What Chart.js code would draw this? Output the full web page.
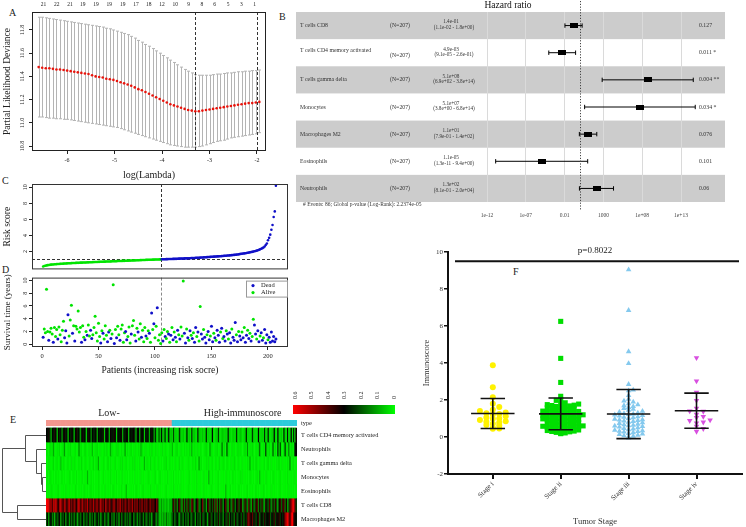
<!DOCTYPE html>
<html>
<head>
<meta charset="utf-8">
<script src="https://cdn.jsdelivr.net/npm/chart.js@4.4.0/dist/chart.umd.min.js"></script>
<style>
  body { margin: 0; background: #fff; width: 746px; height: 527px; position: relative; overflow: hidden; font-family: 'Liberation Serif', serif; }
  canvas { position: absolute; }
  .tag { position: absolute; font-size: 10px; color: #222; line-height: 10px; }
</style>
</head>
<body>
<div class="tag" style="left:9px;top:8px">A</div>
<div class="tag" style="left:279px;top:12px">B</div>
<div class="tag" style="left:2px;top:176px">C</div>
<div class="tag" style="left:2px;top:265px">D</div>
<div class="tag" style="left:10px;top:415px">E</div>
<div class="tag" style="left:513px;top:267px">F</div>
<canvas id="cvA"></canvas>
<canvas id="coxB"></canvas>
<canvas id="riskC"></canvas>
<canvas id="survD"></canvas>
<canvas id="heatE"></canvas>
<canvas id="stageF"></canvas>
<script>
Chart.defaults.font.family = "'Liberation Serif', 'DejaVu Serif', serif";
Chart.defaults.color = '#222';
Chart.defaults.animation = false;
Chart.defaults.responsive = false;
Chart.defaults.devicePixelRatio = 1;
Chart.defaults.plugins.legend.display = false;
Chart.defaults.plugins.tooltip.enabled = false;

// ---- A: lasso cross-validation ----
const logLambda = [-6.6,-6.525,-6.45,-6.375,-6.3,-6.225,-6.15,-6.075,-6,-5.925,-5.85,-5.775,-5.7,-5.625,-5.55,-5.475,-5.4,-5.325,-5.25,-5.175,-5.1,-5.025,-4.95,-4.875,-4.8,-4.725,-4.65,-4.575,-4.5,-4.425,-4.35,-4.275,-4.2,-4.125,-4.05,-3.975,-3.9,-3.825,-3.75,-3.675,-3.6,-3.525,-3.45,-3.375,-3.3,-3.225,-3.15,-3.075,-3,-2.925,-2.85,-2.775,-2.7,-2.625,-2.55,-2.475,-2.4,-2.325,-2.25,-2.175,-2.1,-2.025,-1.95];
const cvMean = [11.48,11.475,11.47,11.47,11.465,11.46,11.46,11.455,11.45,11.445,
  11.44,11.435,11.43,11.425,11.42,11.41,11.40,11.395,11.39,11.38,
  11.375,11.37,11.36,11.35,11.34,11.33,11.32,11.305,11.29,11.28,
  11.265,11.25,11.235,11.22,11.205,11.19,11.175,11.16,11.15,11.14,
  11.13,11.12,11.11,11.105,11.10,11.10,11.105,11.11,11.115,11.12,
  11.125,11.13,11.135,11.14,11.145,11.15,11.155,11.16,11.165,11.17,
  11.17,11.175,11.18];
const cvUpper = [11.91,11.91,11.905,11.90,11.895,11.89,11.885,11.88,11.875,11.87,
  11.865,11.86,11.855,11.85,11.845,11.84,11.835,11.83,11.825,11.815,
  11.81,11.80,11.79,11.78,11.77,11.76,11.745,11.73,11.71,11.695,
  11.675,11.66,11.64,11.62,11.60,11.58,11.56,11.54,11.52,11.50,
  11.48,11.46,11.445,11.43,11.415,11.41,11.41,11.41,11.41,11.415,
  11.42,11.42,11.425,11.43,11.43,11.435,11.44,11.44,11.445,11.445,
  11.45,11.45,11.455];
const cvLower = [11.05,11.05,11.045,11.04,11.04,11.035,11.035,11.03,11.03,11.025,
  11.02,11.015,11.01,11.005,11.0,10.995,10.99,10.985,10.98,10.975,
  10.97,10.965,10.96,10.95,10.94,10.93,10.92,10.91,10.90,10.89,
  10.88,10.87,10.86,10.85,10.84,10.83,10.82,10.81,10.805,10.80,
  10.795,10.79,10.79,10.79,10.79,10.795,10.80,10.81,10.82,10.83,
  10.84,10.845,10.85,10.86,10.87,10.875,10.88,10.885,10.89,10.895,
  10.90,10.905,10.915];
const nzeroPos = [-6.50,-6.22,-5.94,-5.67,-5.39,-5.11,-4.83,-4.55,-4.28,-4.00,-3.72,-3.44,-3.16,-2.89,-2.61,-2.33,-2.05];
const nzero = [21,22,21,19,19,19,19,17,18,12,10,9,8,6,5,3,1];
const lambdaMin = -3.3;
const lambda1se = -1.99;

// ---- B: multivariate Cox ----
const coxVars = ['T cells CD8','T cells CD4 memory activated','T cells gamma delta','Monocytes','Macrophages M2','Eosinophils','Neutrophils'];
const coxN = 207;
const coxHR = [1.4e-1, 4.9e-3, 5.1e8, 5.1e7, 1.1e1, 1.1e-5, 1.3e2];
const coxLow = [1.1e-2, 9.1e-5, 6.9e2, 3.8e0, 7.9e-1, 1.3e-11, 8.1e-1];
const coxHigh = [1.8e0, 2.6e-1, 3.8e14, 6.8e14, 1.4e2, 9.4e0, 2.0e4];
const coxP = ['0.127','0.011 *','0.004 **','0.034 *','0.076','0.101','0.06'];
const coxEvents = 86;
const globalP = '2.2374e-05';
const hrTicks = [1e-12, 1e-7, 1e-2, 1e3, 1e8, 1e13];
const hrTickLabels = ['1e-12','1e-07','0.01','1000','1e+08','1e+13'];

// ---- C / D: risk score and survival, patients ordered by risk ----
const nLowRisk = 105;
const riskScore = [0.12,0.18,0.22,0.26,0.29,0.31,0.33,0.35,0.37,0.38,
  0.40,0.41,0.42,0.43,0.44,0.45,0.46,0.47,0.48,0.49,
  0.50,0.51,0.52,0.52,0.53,0.54,0.55,0.55,0.56,0.57,
  0.58,0.58,0.59,0.60,0.60,0.61,0.62,0.62,0.63,0.64,
  0.64,0.65,0.65,0.66,0.67,0.67,0.68,0.68,0.69,0.70,
  0.70,0.71,0.71,0.72,0.73,0.73,0.74,0.74,0.75,0.75,
  0.76,0.77,0.77,0.78,0.78,0.79,0.80,0.80,0.81,0.81,
  0.82,0.83,0.83,0.84,0.84,0.85,0.86,0.86,0.87,0.88,
  0.88,0.89,0.89,0.90,0.91,0.91,0.92,0.92,0.93,0.94,
  0.94,0.95,0.95,0.96,0.96,0.97,0.97,0.98,0.98,0.99,
  0.99,1.00,1.00,1.01,1.01,
  1.02,1.02,1.03,1.03,1.04,1.04,1.05,1.05,1.06,1.06,
  1.07,1.07,1.08,1.08,1.09,1.10,1.10,1.11,1.11,1.12,
  1.13,1.13,1.14,1.15,1.15,1.16,1.17,1.18,1.18,1.19,
  1.20,1.21,1.22,1.22,1.23,1.24,1.25,1.26,1.27,1.28,
  1.29,1.30,1.31,1.32,1.33,1.34,1.35,1.36,1.37,1.38,
  1.39,1.40,1.41,1.42,1.44,1.45,1.46,1.47,1.49,1.50,
  1.51,1.52,1.54,1.55,1.57,1.58,1.60,1.62,1.64,1.67,
  1.70,1.72,1.74,1.76,1.78,1.80,1.83,1.86,1.89,1.92,
  1.95,1.98,2.02,2.06,2.10,2.15,2.20,2.26,2.33,2.41,
  2.50,2.62,2.80,3.00,3.40,3.70,4.10,4.70,5.30,6.30,7.00,10.20];
const riskCut = 1.01;
const survYears = [1.1,2.4,1.8,8.6,2.0,0.6,1.9,2.5,1.6,0.3,
  2.6,1.2,2.3,0.8,2.7,1.5,0.4,2.2,3.6,1.0,
  2.1,0.2,4.6,1.3,3.8,6.1,1.7,2.9,0.5,2.8,
  2.4,5.2,1.9,2.6,0.3,2.9,1.1,0.7,2.0,1.4,
  3.0,1.3,2.2,0.9,1.5,2.6,4.4,1.8,0.5,3.3,
  1.2,0.2,2.1,1.7,0.8,2.9,1.4,0.4,1.9,2.2,
  0.9,1.6,9.3,0.1,2.3,1.0,2.8,1.5,0.6,2.4,
  3.0,0.3,1.8,2.0,0.7,1.2,2.7,0.2,1.6,2.9,
  3.7,1.4,0.5,2.5,1.9,0.8,3.2,1.1,2.2,0.4,
  2.6,1.3,0.9,2.1,1.7,0.3,4.9,2.3,3.2,1.0,
  2.8,5.7,0.6,1.5,0.1,
  1.8,0.5,2.3,1.2,0.9,2.0,1.6,0.3,1.4,2.6,
  0.7,1.9,1.1,0.4,2.2,1.5,0.8,2.7,1.3,9.9,
  1.7,0.2,2.4,1.0,0.6,2.1,1.4,0.9,1.8,0.3,
  2.6,1.2,1.9,0.5,5.9,1.6,0.8,2.3,1.1,0.2,
  1.5,2.0,0.7,1.3,2.8,0.4,1.7,1.0,0.6,2.2,
  1.4,0.3,1.9,2.5,0.9,1.2,0.5,2.1,1.6,0.8,
  1.8,0.2,2.4,1.1,0.6,3.4,1.5,0.4,2.0,1.3,
  0.7,1.9,1.0,2.6,0.3,1.4,2.2,0.9,1.7,0.5,
  1.2,3.9,3.0,1.6,0.8,2.1,0.4,1.3,1.8,0.6,
  1.0,2.3,0.2,1.5,0.7,1.1,0.3,1.9,0.5,1.2,0.4,0.8];
const dead = [1,0,0,0,0,1,0,0,0,1, 0,0,0,1,0,0,0,0,0,1, 1,1,1,0,0,0,1,0,1,0,
  0,0,0,0,1,0,0,1,0,1, 0,0,1,1,0,0,0,0,0,0, 0,1,0,1,0,0,0,1,1,0,
  1,0,0,1,0,1,0,0,1,0, 0,0,0,1,1,0,0,0,1,0, 0,0,1,0,1,0,0,1,0,0,
  0,1,0,0,1,0,1,0,1,0, 0,1,0,0,0,
  0,1,0,1,0,0,1,0,1,0, 1,0,1,0,1,0,1,0,0,0, 1,1,0,1,0,1,0,1,0,1,
  1,0,1,0,0,1,1,0,1,1, 0,1,1,0,1,1,0,1,0,1, 1,1,0,1,0,1,1,0,1,0,
  1,1,0,1,1,1,0,1,0,1, 1,0,1,0,1,1,0,1,0,1, 0,0,1,1,0,1,1,0,1,1,
  0,1,1,1,0,1,1,1,1,1,1,1];

// ---- E: heatmap, values x100, columns ordered Low then High immunoscore ----
const heatNames = ['T cells CD4 memory activated','Neutrophils','T cells gamma delta','Monocytes','Eosinophils','T cells CD8','Macrophages M2'];
const groupNames = ['Low-', 'High-immunoscore'];
const groupSizes = [104, 103];
const heatCD4 = [30,28,32,25,8,30,27,33,29,6,31,26,30,10,28,32,27,29,5,30,26,31,28,
  7,29,33,27,30,9,26,31,28,30,4,27,32,29,12,30,26,28,31,8,29,27,30,
  26,32,6,28,30,27,9,31,29,26,33,28,5,30,27,29,32,10,28,26,31,29,7,
  30,27,28,31,26,8,29,30,12,27,31,28,6,30,26,29,9,28,31,27,10,25,8,
  6,22,5,28,9,7,26,4,8,30,5,7,5,22,4,6,3,8,25,5,4,7,3,
  5,28,4,6,3,24,5,7,4,3,27,6,5,4,8,3,5,26,4,6,3,5,29,
  4,3,6,5,24,4,3,7,5,4,6,3,28,5,4,3,6,4,5,26,3,4,7,
  5,3,4,6,27,4,5,3,4,24,6,5,3,4,30,5,4,6,3,25,5,4,28,
  4,3,6,5,30,4,3,29,5,4,6,3,27,5,4,28,3,6,31,4,25,5,32];
const heatNeut = [3,2,1,4,2,3,10,2,1,3,2,4,1,2,3,12,2,1,3,2,4,2,1,
  2,3,1,2,14,2,3,1,2,4,2,1,3,2,2,8,1,3,2,4,1,2,3,
  1,2,3,2,4,1,2,10,3,2,1,2,3,4,2,1,3,2,2,12,1,3,2,
  2,4,1,2,3,2,1,3,2,9,4,1,2,3,2,1,3,2,4,2,1,3,2,
  3,1,2,2,4,1,3,2,1,2,3,2,8,1,2,3,4,1,2,3,2,1,3,
  2,3,1,4,2,10,1,3,2,2,4,1,3,2,1,2,3,4,2,1,12,3,2,
  1,3,2,4,1,2,3,18,2,4,1,22,3,2,1,4,2,3,1,2,4,2,3,
  2,1,3,4,2,14,1,3,2,4,2,1,3,2,4,18,2,1,3,2,24,3,2,
  4,1,3,20,2,4,1,26,3,22,2,1,4,24,3,2,16,1,4,3,2,26,30];
const heatGD = [2,1,3,2,1,2,4,1,2,3,1,2,8,1,3,2,1,2,3,1,2,4,1,
  3,2,1,2,3,1,4,2,1,3,2,1,2,3,1,2,4,1,3,2,10,1,2,
  1,3,2,1,2,4,1,3,2,1,2,3,1,2,1,3,2,4,1,2,3,1,2,
  2,1,3,2,4,1,2,1,3,2,1,2,9,1,3,2,1,4,2,1,3,2,1,
  3,2,1,2,1,3,2,4,1,2,3,1,2,1,3,2,1,2,4,1,3,2,1,
  2,1,3,2,1,2,3,1,4,2,1,12,2,3,1,2,1,3,2,4,1,2,3,
  1,2,3,1,2,4,1,2,3,2,1,3,2,1,2,3,1,4,2,1,3,2,1,
  2,3,1,2,1,3,2,10,1,2,3,1,4,2,1,3,2,1,2,3,1,2,4,
  1,2,3,1,2,1,3,2,4,1,2,3,1,2,1,3,2,14,1,2,3,1,2];
const heatMono = [1,2,1,3,2,1,2,1,3,1,2,1,2,3,1,2,1,2,1,3,2,1,2,
  2,1,3,1,2,1,2,3,1,2,1,9,2,1,3,1,2,1,2,1,3,2,1,
  1,3,1,2,1,2,1,3,2,1,2,1,3,1,2,1,2,3,1,2,1,2,1,
  2,1,2,1,3,1,2,1,2,3,1,2,1,2,1,3,2,1,2,1,2,3,1,
  1,2,3,1,2,1,2,1,3,2,1,2,1,3,1,2,1,2,1,3,1,2,1,
  2,1,2,3,1,2,1,2,1,3,2,1,2,1,2,3,1,2,1,10,2,1,3,
  1,2,1,2,3,1,2,1,2,1,3,2,1,2,1,2,3,1,2,1,2,1,3,
  2,3,1,2,1,2,1,3,2,1,2,1,2,3,1,8,2,1,2,1,3,2,1,
  1,2,1,3,2,1,2,1,2,3,1,2,1,2,1,3,2,1,2,1,2,3,1];
const heatEos = [2,1,2,1,3,2,1,2,1,2,3,1,2,1,2,1,3,2,1,2,1,2,1,
  1,3,2,1,2,1,2,1,3,2,1,2,1,2,3,1,2,1,2,1,3,2,1,
  2,1,2,3,1,2,1,2,1,3,2,1,2,1,2,1,3,2,1,2,8,1,2,
  1,2,1,2,1,3,2,1,2,1,2,3,1,2,1,2,1,3,2,1,2,1,2,
  3,1,2,1,2,1,2,3,1,2,1,2,1,3,2,1,2,1,2,3,1,2,1,
  2,1,3,2,1,2,1,2,1,3,2,1,2,1,2,3,1,2,1,2,1,3,2,
  1,2,1,2,3,1,2,1,2,1,9,2,1,2,3,1,2,1,2,1,2,3,1,
  2,1,2,1,2,3,1,2,1,2,1,2,3,1,2,1,2,1,3,2,1,2,1,
  1,2,3,1,2,1,2,1,2,3,1,2,1,2,1,2,3,1,2,1,2,1,2];
const heatCD8 = [60,58,55,45,50,38,52,47,56,40,35,48,53,42,37,50,45,33,46,52,39,44,36,
  49,41,34,47,55,38,43,50,36,45,40,52,33,46,42,38,51,35,44,48,37,41,53,
  39,45,34,50,42,36,47,40,33,44,49,38,35,46,41,52,37,43,34,48,40,36,45,
  42,38,50,35,44,39,47,33,41,36,49,34,43,38,46,32,40,45,35,42,37,31,44,
  36,8,5,12,6,10,4,9,7,5,11,6,22,38,18,35,12,33,40,20,10,36,15,
  34,15,38,22,17,42,36,12,20,29,40,14,18,31,44,19,26,9,34,39,16,32,20,
  36,18,41,14,33,17,38,22,12,31,40,19,10,36,21,15,39,24,16,30,37,18,33,
  35,12,19,38,21,14,40,23,8,36,20,17,34,39,15,32,18,37,16,11,33,25,19,
  38,20,14,34,17,36,22,9,31,37,18,35,40,16,33,12,20,38,45,55,58,42,24];
const heatM2 = [20,28,12,25,30,15,22,8,27,18,24,31,10,26,19,29,14,23,30,11,25,17,28,
  13,26,21,9,29,16,24,30,12,27,19,22,31,10,25,18,28,14,23,30,17,26,11,
  24,29,15,21,27,10,25,30,18,22,13,28,20,26,9,31,17,23,29,14,24,19,27,
  12,25,30,16,22,28,11,26,19,24,30,13,27,21,15,29,18,23,10,26,31,20,14,
  25,10,6,12,8,15,5,18,9,12,7,14,20,28,16,24,30,18,12,27,22,15,29,
  19,26,13,31,21,17,28,24,12,30,20,26,15,32,22,18,29,25,11,27,33,19,24,
  30,16,26,21,34,18,28,23,14,31,25,20,35,17,29,22,27,15,33,24,19,30,26,
  21,32,17,28,24,40,45,38,30,42,26,33,20,29,36,18,27,31,22,35,25,30,28,
  34,19,30,26,37,22,32,29,36,24,31,27,33,46,52,58,48,35,55,60,42,30,28];
const heatRows = [heatCD4, heatNeut, heatGD, heatMono, heatEos, heatCD8, heatM2];
const keyTicks = [0.6, 0.5, 0.4, 0.3, 0.2, 0.1, 0];
// hclust style merges: negative = row (1-based), positive = earlier merge
const dendroMerges = [[-4,-5,0.09],[-3,1,0.11],[-2,2,0.22],[-1,3,0.48],[-6,-7,0.66],[4,5,0.99]];

// ---- F: immunoscore by tumor stage ----
const stageNames = ['Stage i','Stage ii','Stage iii','Stage iv'];
const stageI = [3.88,2.69,2.15,1.80,1.62,1.47,1.40,1.33,1.28,1.25,1.22,1.12,1.05,1.00,0.98,0.92,0.85,0.82,0.78,0.72,0.65,0.62,0.50,0.46,0.44];
const stageII = [6.25,4.25,2.95,2.20,2.02,1.98,
  1.85,1.80,1.78,1.75,1.72,1.70,1.68,1.65,1.62,1.60,
  1.55,1.52,1.50,1.48,1.45,1.42,1.40,1.38,1.35,1.32,
  1.30,1.28,1.25,1.22,1.20,1.18,1.15,1.12,1.10,1.08,
  1.05,1.02,1.00,0.98,0.95,0.92,0.90,0.88,0.85,0.82,
  0.80,0.78,0.75,0.72,0.70,0.68,0.65,0.62,0.60,0.58,
  0.55,0.52,0.50,0.48,0.45,0.42,0.40,0.38,0.35,0.32,
  0.30,0.28,0.25,0.22,0.20,0.18,1.58,1.35,1.05,0.88,0.62,0.45];
const stageIII = [9.05,6.85,4.62,3.98,2.85,2.55,2.50,2.25,2.05,1.95,1.90,
  1.80,1.75,1.70,1.65,1.60,1.55,1.50,1.45,1.40,1.35,
  1.30,1.27,1.24,1.20,1.17,1.14,1.10,1.07,1.04,1.00,
  0.97,0.94,0.90,0.87,0.84,0.80,0.77,0.74,0.70,0.67,
  0.64,0.60,0.57,0.54,0.50,0.47,0.44,0.40,0.37,0.34,
  0.30,0.27,0.24,0.20,0.17,0.14,0.10,0.07,0.04,0.00,
  -0.05,1.22,0.92,0.62,0.32];
const stageIV = [4.28,3.02,2.42,1.97,1.55,1.40,1.38,1.22,1.10,1.05,0.92,0.88,0.80,0.75,0.58,0.45,0.30];
const stageMean = [1.27, 1.25, 1.24, 1.42];
const stageSD = [0.81, 0.86, 1.33, 0.95];
const pValueText = 'p=0.8022';
const pLineAt = 9.5;

const GREEN = '#00e400';
const BLUE = '#1010c8';

function place(id, left, top, w, h) {
  let c = document.getElementById(id);
  c.style.left = left + 'px';
  c.style.top = top + 'px';
  c.width = w;
  c.height = h;
  return c;
}
const fixW = w => s => { s.width = w; };
const fixH = h => s => { s.height = h; };
const at = arr => s => { s.ticks = arr.map(v => ({ value: v })); };

function frame(color) {
  return {
    id: 'frame',
    afterDraw(chart) {
      const a = chart.chartArea, ctx = chart.ctx;
      ctx.save();
      ctx.strokeStyle = color;
      ctx.lineWidth = 1;
      ctx.strokeRect(a.left + 0.5, a.top + 0.5, a.right - a.left - 1, a.bottom - a.top - 1);
      ctx.restore();
    }
  };
}
function vDash(chart, xv, color, top, bottom) {
  const { ctx, scales: { x } } = chart;
  const px = Math.round(x.getPixelForValue(xv)) + 0.5;
  ctx.save();
  ctx.strokeStyle = color;
  ctx.setLineDash([3, 2]);
  ctx.beginPath();
  ctx.moveTo(px, top);
  ctx.lineTo(px, bottom);
  ctx.stroke();
  ctx.restore();
}
function sci(v) {
  let [m, e] = v.toExponential(1).split('e');
  let n = Math.abs(+e);
  return m + 'e' + (e[0] === '-' ? '-' : '+') + (n < 10 ? '0' : '') + n;
}
const rTicks = { font: { size: 6 }, minRotation: 90, maxRotation: 90, crossAlign: 'center', padding: 1 };
const rGrid = { drawOnChartArea: false, tickLength: 3, color: '#222' };

// ---------- A ----------
new Chart(place('cvA', 0, 0, 280, 185), {
  type: 'scatter',
  data: {
    datasets: [{
      data: logLambda.map((x, i) => ({ x, y: cvMean[i] })),
      pointRadius: 1.3, pointBorderWidth: 0, pointBackgroundColor: '#e8140c'
    }]
  },
  options: {
    layout: { padding: { right: 14 } },
    scales: {
      x: {
        type: 'linear', min: -6.74, max: -1.81, afterBuildTicks: at([-6, -5, -4, -3, -2]),
        ticks: { font: { size: 6 }, padding: 3 }, grid: rGrid, border: { display: false },
        title: { display: true, text: 'log(Lambda)', font: { size: 10 }, padding: { top: 8 } },
        afterFit: fixH(34)
      },
      x2: {
        type: 'linear', position: 'top', min: -6.74, max: -1.81, afterBuildTicks: at(nzeroPos),
        ticks: { font: { size: 5.5 }, padding: 4, callback: (v, i) => nzero[i] },
        grid: { display: false, drawTicks: false }, border: { display: false },
        afterFit: fixH(12)
      },
      y: {
        min: 10.757, max: 11.955, afterBuildTicks: at([10.8, 11.0, 11.2, 11.4, 11.6, 11.8]),
        ticks: Object.assign({}, rTicks, { callback: v => v.toFixed(1) }),
        grid: rGrid, border: { display: false },
        title: { display: true, text: 'Partial Likelihood Deviance', font: { size: 9.5 }, padding: { top: 2 } },
        afterFit: fixW(32)
      }
    }
  },
  plugins: [frame('#222'), {
    id: 'cvBars',
    beforeDatasetsDraw(chart) {
      const { ctx, scales: { x, y }, chartArea: a } = chart;
      ctx.save();
      ctx.strokeStyle = '#b4b4b4';
      ctx.lineWidth = 1;
      ctx.beginPath();
      logLambda.forEach((v, i) => {
        const px = Math.round(x.getPixelForValue(v)) + 0.5;
        const t = y.getPixelForValue(cvUpper[i]), b = y.getPixelForValue(cvLower[i]);
        ctx.moveTo(px, t); ctx.lineTo(px, b);
        ctx.moveTo(px - 1.5, t); ctx.lineTo(px + 1.5, t);
        ctx.moveTo(px - 1.5, b); ctx.lineTo(px + 1.5, b);
      });
      ctx.stroke();
      ctx.restore();
      vDash(chart, lambdaMin, '#333', a.top, a.bottom);
      vDash(chart, lambda1se, '#333', a.top, a.bottom);
    }
  }]
});

// ---------- B ----------
const boxMark = document.createElement('canvas');
boxMark.width = 8; boxMark.height = 5;
boxMark.getContext('2d').fillRect(0, 0, 8, 5);
const ciLines = [], ciCaps = [];
coxVars.forEach((v, i) => {
  ciLines.push({ x: coxLow[i], y: i + 1 }, { x: coxHigh[i], y: i + 1 }, { x: null, y: null });
  ciCaps.push({ x: coxLow[i], y: i + 1 }, { x: coxHigh[i], y: i + 1 });
});
new Chart(place('coxB', 283, 0, 463, 225), {
  type: 'scatter',
  data: {
    datasets: [
      { data: coxHR.map((v, i) => ({ x: v, y: i + 1 })), pointStyle: boxMark, pointRadius: 4 },
      { data: ciCaps, pointStyle: 'line', rotation: 90, pointRadius: 2.2, borderColor: '#000', borderWidth: 1 },
      { data: ciLines, showLine: true, spanGaps: false, pointRadius: 0, borderColor: '#000', borderWidth: 1 }
    ]
  },
  options: {
    layout: { padding: { left: 188.5, right: 41.7, top: 12, bottom: 0 } },
    scales: {
      x: {
        type: 'logarithmic', min: 1e-14, max: 1e16, afterBuildTicks: at(hrTicks),
        ticks: { font: { size: 5.5 }, padding: 10, color: '#444', callback: (v, i) => hrTickLabels[i] },
        grid: { color: '#dadada', drawTicks: false }, border: { display: false },
        afterFit: fixH(23)
      },
      y: { min: 0.5, max: 7.5, reverse: true, display: false }
    }
  },
  plugins: [{
    id: 'forestDecor',
    beforeDraw(chart) {
      const { ctx, scales: { y } } = chart;
      const half = Math.abs(y.getPixelForValue(1.5) - y.getPixelForValue(1));
      ctx.save();
      ctx.fillStyle = '#cccccc';
      coxVars.forEach((v, i) => {
        if (i % 2) return;
        const c = y.getPixelForValue(i + 1);
        ctx.fillRect(13, c - half, chart.width - 34, 2 * half);
      });
      ctx.restore();
    },
    afterDraw(chart) {
      const { ctx, scales: { x, y } } = chart;
      ctx.save();
      ctx.fillStyle = '#333';
      ctx.textBaseline = 'middle';
      coxVars.forEach((name, i) => {
        const c = y.getPixelForValue(i + 1);
        const long = name.length > 20;
        ctx.font = "5.8px 'Liberation Serif'";
        ctx.textAlign = 'left';
        ctx.fillText(name, 17, long ? c - 2 : c);
        ctx.fillText('(N=' + coxN + ')', 107, long ? c + 3 : c);
        ctx.fillText(coxP[i], 416, c);
        ctx.font = "5.2px 'Liberation Serif'";
        ctx.textAlign = 'center';
        ctx.fillText(sci(coxHR[i]), 168, c - 3.5);
        ctx.fillText('(' + sci(coxLow[i]) + ' - ' + sci(coxHigh[i]) + ')', 171, c + 2);
      });
      ctx.font = "5.5px 'Liberation Serif'";
      ctx.textAlign = 'left';
      ctx.fillText('# Events: ' + coxEvents + '; Global p-value (Log-Rank): ' + globalP, 20, 204.5);
      ctx.font = "9.5px 'Liberation Serif'";
      ctx.textAlign = 'center';
      ctx.fillStyle = '#111';
      ctx.fillText('Hazard ratio', 225, 5);
      const px = Math.round(x.getPixelForValue(1)) + 0.5;
      ctx.strokeStyle = '#444';
      ctx.setLineDash([1.2, 1.6]);
      ctx.beginPath();
      ctx.moveTo(px, 1);
      ctx.lineTo(px, 211);
      ctx.stroke();
      ctx.restore();
    }
  }]
});

// ---------- C ----------
const patientIdx = riskScore.map((v, i) => i + 1);
new Chart(place('riskC', 0, 176, 300, 98), {
  type: 'scatter',
  data: {
    datasets: [{
      data: riskScore.map((v, i) => ({ x: patientIdx[i], y: v })),
      pointRadius: 1.3, pointBorderWidth: 0,
      pointBackgroundColor: riskScore.map((v, i) => i < nLowRisk ? GREEN : BLUE)
    }]
  },
  options: {
    layout: { padding: { top: 8, right: 12, bottom: 1 } },
    scales: {
      x: { min: -8.85, max: 217.7, display: false },
      y: {
        min: -0.24, max: 10.42, afterBuildTicks: at([2, 4, 6, 8, 10]),
        ticks: rTicks, grid: rGrid, border: { display: false },
        title: { display: true, text: 'Risk score', font: { size: 9.5 }, padding: { top: 2 } },
        afterFit: fixW(32)
      }
    }
  },
  plugins: [frame('#333'), {
    id: 'riskCut',
    beforeDatasetsDraw(chart) {
      const { ctx, scales: { y }, chartArea: a } = chart;
      const py = Math.round(y.getPixelForValue(riskCut)) + 0.5;
      ctx.save();
      ctx.strokeStyle = '#333';
      ctx.setLineDash([3, 2]);
      ctx.beginPath();
      ctx.moveTo(a.left, py);
      ctx.lineTo(a.right, py);
      ctx.stroke();
      ctx.restore();
      vDash(chart, nLowRisk + 0.5, '#333', a.top, a.bottom);
    }
  }]
});

// ---------- D ----------
new Chart(place('survD', 0, 273, 300, 107), {
  type: 'scatter',
  data: {
    datasets: [{
      data: survYears.map((v, i) => ({ x: patientIdx[i], y: v })),
      pointRadius: 1.5, pointBorderWidth: 0,
      pointBackgroundColor: dead.map(d => d ? BLUE : GREEN)
    }]
  },
  options: {
    layout: { padding: { top: 0, right: 12 } },
    scales: {
      x: {
        min: -8.85, max: 217.7, afterBuildTicks: at([0, 50, 100, 150, 200]),
        ticks: { font: { size: 6.5 }, padding: 2 }, grid: rGrid, border: { display: false },
        title: { display: true, text: 'Patients (increasing risk socre)', font: { size: 9.5 }, padding: { top: 4 } },
        afterFit: fixH(33)
      },
      y: {
        min: -0.44, max: 10.44, afterBuildTicks: at([0, 2, 4, 6, 8, 10]),
        ticks: rTicks, grid: rGrid, border: { display: false },
        title: { display: true, text: 'Survival time (years)', font: { size: 9 }, padding: { top: 2 } },
        afterFit: fixW(32)
      }
    }
  },
  plugins: [frame('#333'), {
    id: 'survDecor',
    beforeDatasetsDraw(chart) {
      const a = chart.chartArea;
      vDash(chart, nLowRisk + 0.5, '#888', a.top, a.bottom);
    },
    afterDraw(chart) {
      const { ctx, chartArea: a } = chart;
      const x0 = a.right - 42, y0 = a.top + 3;
      ctx.save();
      ctx.fillStyle = '#fff';
      ctx.fillRect(x0, y0, 42, 16);
      ctx.strokeStyle = '#999';
      ctx.strokeRect(x0 + 0.5, y0 + 0.5, 41, 16);
      ctx.font = "6.5px 'Liberation Serif'";
      ctx.textBaseline = 'middle';
      [['Dead', BLUE], ['Alive', GREEN]].forEach(([t, c], k) => {
        const yy = y0 + 5 + k * 7;
        ctx.fillStyle = c;
        ctx.beginPath(); ctx.arc(x0 + 7, yy, 1.6, 0, Math.PI * 2); ctx.fill();
        ctx.fillStyle = '#222';
        ctx.fillText(t, x0 + 15, yy);
      });
      ctx.restore();
    }
  }]
});

// ---------- E ----------
function heatColor(v) {
  if (v <= 0.3) return 'rgb(0,' + Math.round(255 * (1 - v / 0.3)) + ',0)';
  return 'rgb(' + Math.round(255 * Math.min(1, (v - 0.3) / 0.3)) + ',0,0)';
}
const typeH = 0.41, gapH = 0.16;
const colLabels = heatCD4.map((v, i) => i + 1);
const groupOf = colLabels.map((c, i) => i < groupSizes[0] ? 0 : 1);
const heatSets = [
  { data: colLabels.map(() => typeH), backgroundColor: groupOf.map(g => g ? '#2dcbdc' : '#f3968e') },
  { data: colLabels.map(() => gapH), backgroundColor: 'rgba(0,0,0,0)' }
].concat(heatRows.map(row => ({ data: row.map(() => 1), backgroundColor: row.map(v => heatColor(v / 100)) })));
heatSets.forEach(d => { d.categoryPercentage = 1; d.barPercentage = 1; d.borderWidth = 0; });
new Chart(place('heatE', 0, 380, 420, 147), {
  type: 'bar',
  data: { labels: colLabels, datasets: heatSets },
  options: {
    layout: { padding: { left: 46, right: 123, top: 40, bottom: 1 } },
    scales: {
      x: { stacked: true, display: false },
      y: { stacked: true, display: false, reverse: true, min: 0, max: typeH + gapH + heatRows.length }
    }
  },
  plugins: [{
    id: 'heatDecor',
    afterDraw(chart) {
      const { ctx, scales: { x, y }, chartArea: a } = chart;
      const rowY = i => y.getPixelForValue(typeH + gapH + i + 0.5);
      ctx.save();
      ctx.fillStyle = '#222';
      ctx.textBaseline = 'middle';
      ctx.textAlign = 'left';
      ctx.font = "6.3px 'Liberation Serif'";
      heatNames.forEach((n, i) => ctx.fillText(n, a.right + 4, rowY(i)));
      ctx.fillText('type', a.right + 4, y.getPixelForValue(typeH / 2));
      // group titles
      ctx.font = "10px 'Liberation Serif'";
      ctx.textAlign = 'center';
      let start = 0;
      groupSizes.forEach((n, g) => {
        const cx = (x.getPixelForValue(start) + x.getPixelForValue(start + n - 1)) / 2;
        ctx.fillText(groupNames[g], cx + (g ? 8 : 0), a.top - 7);
        start += n;
      });
      // colour key
      const kl = 293, kr = 395, kt = 25, kb = 34;
      const grad = ctx.createLinearGradient(kl, 0, kr, 0);
      keyTicks.forEach(v => grad.addColorStop((0.6 - v) / 0.6, heatColor(v)));
      ctx.fillStyle = grad;
      ctx.fillRect(kl, kt, kr - kl, kb - kt);
      ctx.fillStyle = '#222';
      ctx.font = "6px 'Liberation Serif'";
      keyTicks.forEach(v => {
        const kx = kl + 2 + (0.6 - v) / 0.6 * (kr - kl - 3);
        ctx.save();
        ctx.translate(kx, kt - 6);
        ctx.rotate(-Math.PI / 2);
        ctx.textAlign = 'left';
        ctx.fillText(String(v), 0, 0);
        ctx.restore();
      });
      // dendrogram
      ctx.strokeStyle = '#555';
      ctx.lineWidth = 1;
      ctx.beginPath();
      const nodes = [];
      const xy = id => id < 0 ? { x: a.left, y: rowY(-id - 1) } : nodes[id - 1];
      dendroMerges.forEach(([p, q, h]) => {
        const A = xy(p), B = xy(q);
        const hx = Math.round(a.left - h * (a.left - 2)) + 0.5;
        ctx.moveTo(A.x, Math.round(A.y) + 0.5); ctx.lineTo(hx, Math.round(A.y) + 0.5);
        ctx.lineTo(hx, Math.round(B.y) + 0.5); ctx.lineTo(B.x, Math.round(B.y) + 0.5);
        nodes.push({ x: hx, y: (A.y + B.y) / 2 });
      });
      ctx.stroke();
      ctx.restore();
    }
  }]
});

// ---------- F ----------
function swarm(vals, center, binH, dx) {
  const sorted = vals.slice().sort((p, q) => p - q);
  const count = {};
  return sorted.map(v => {
    const b = Math.floor(v / binH);
    const k = count[b] || 0;
    count[b] = k + 1;
    const off = k === 0 ? 0 : (k % 2 ? 1 : -1) * Math.ceil(k / 2) * dx;
    return { x: center + off, y: v };
  });
}
const errLines = [];
stageMean.forEach((m, i) => {
  const lo = m - stageSD[i], hi = m + stageSD[i];
  errLines.push({ x: i - 0.32, y: m }, { x: i + 0.32, y: m }, { x: null, y: null },
    { x: i, y: lo }, { x: i, y: hi }, { x: null, y: null },
    { x: i - 0.18, y: hi }, { x: i + 0.18, y: hi }, { x: null, y: null },
    { x: i - 0.18, y: lo }, { x: i + 0.18, y: lo }, { x: null, y: null });
});
new Chart(place('stageF', 400, 240, 346, 287), {
  type: 'scatter',
  data: {
    datasets: [
      { data: errLines, showLine: true, spanGaps: false, pointRadius: 0, borderColor: '#111', borderWidth: 1.6 },
      { data: swarm(stageI, 0, 0.24, 0.095), pointStyle: 'circle', pointRadius: 3, backgroundColor: '#fff200', borderWidth: 0 },
      { data: swarm(stageII, 1, 0.2, 0.066), pointStyle: 'rect', pointRadius: 3.6, backgroundColor: '#00dd00', borderWidth: 0 },
      { data: swarm(stageIII, 2, 0.2, 0.068), pointStyle: 'triangle', pointRadius: 3.2, backgroundColor: '#84c9ee', borderWidth: 0 },
      { data: swarm(stageIV, 3, 0.24, 0.1), pointStyle: 'triangle', rotation: 180, pointRadius: 3.2, backgroundColor: '#d84fe0', borderWidth: 0 }
    ]
  },
  options: {
    layout: { padding: { top: 12, right: 2 } },
    scales: {
      x: {
        min: -0.66, max: 3.67, afterBuildTicks: at([0, 1, 2, 3]),
        ticks: { font: { size: 7 }, minRotation: 45, maxRotation: 45, padding: 1, color: '#333', callback: (v, i) => stageNames[i] },
        grid: { drawOnChartArea: false, tickLength: 5, lineWidth: 2, color: '#111' },
        border: { width: 2, color: '#111' },
        title: { display: true, text: 'Tumor Stage', font: { size: 8.5 }, padding: 0, color: '#333' },
        afterFit: fixH(53)
      },
      y: {
        min: -2, max: 10, afterBuildTicks: at([-2, 0, 2, 4, 6, 8, 10]),
        ticks: { font: { size: 7 }, padding: 1, color: '#333' },
        grid: { drawOnChartArea: false, tickLength: 4, lineWidth: 1.5, color: '#111' },
        border: { width: 2, color: '#111' },
        title: { display: true, text: 'Immunoscore', font: { size: 8.5 }, padding: { top: 22, bottom: 0 }, color: '#333' },
        afterFit: fixW(48)
      }
    }
  },
  plugins: [{
    id: 'pLine',
    afterDraw(chart) {
      const { ctx, scales: { y }, chartArea: a } = chart;
      const py = y.getPixelForValue(pLineAt);
      ctx.save();
      ctx.strokeStyle = '#111';
      ctx.lineWidth = 2;
      ctx.beginPath();
      ctx.moveTo(a.left + 7, py);
      ctx.lineTo(a.right - 3, py);
      ctx.stroke();
      ctx.fillStyle = '#222';
      ctx.font = "9px 'Liberation Serif'";
      ctx.textAlign = 'center';
      ctx.textBaseline = 'middle';
      ctx.fillText(pValueText, (a.left + a.right) / 2, py - 11);
      ctx.restore();
    }
  }]
});
</script>
</body>
</html>
